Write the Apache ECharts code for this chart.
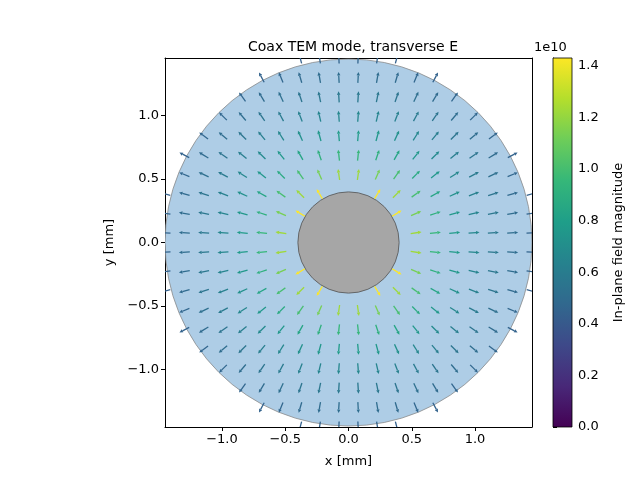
<!DOCTYPE html>
<html><head><meta charset="utf-8">
<script src="https://cdn.jsdelivr.net/npm/echarts@6/dist/echarts.min.js"></script>
<style>html,body{margin:0;padding:0;background:#fff}#c{width:640px;height:480px}</style>
</head><body><div id="c"></div>
<script>
// sample grid positions (mm)
const gridPos = [-1.45,-1.2974,-1.1447,-0.9921,-0.8395,-0.6868,-0.5342,-0.3816,-0.2289,-0.0763,
                  0.0763,0.2289,0.3816,0.5342,0.6868,0.8395,0.9921,1.1447,1.2974,1.45];
const innerRadius = 0.4;     // mm
const outerRadius = 1.45;    // mm
const sampleLimit = 1.5;     // mm, arrows kept inside this radius
const fieldAtUnitR = 0.66;   // 1e10 V/m * mm
const xTicks = [-1.0,-0.5,0.0,0.5,1.0];
const yTicks = [-1.0,-0.5,0.0,0.5,1.0];
const cbTicks = [0.0,0.2,0.4,0.6,0.8,1.0,1.2,1.4];
const cbMax = 1.43;

const viridis = [[68,1,84],[72,40,120],[62,73,137],[49,104,142],[38,130,142],[31,158,137],[53,183,121],[109,205,89],[180,222,44],[253,231,37]];
function vcol(t){t=Math.max(0,Math.min(1,t));const f=t*(viridis.length-1);const i=Math.min(Math.floor(f),viridis.length-2);const a=f-i;
 const c=viridis[i].map((v,k)=>Math.round(v+(viridis[i+1][k]-v)*a));return `rgb(${c[0]},${c[1]},${c[2]})`;}

const arrows=[];
for(const x of gridPos){for(const y of gridPos){const r=Math.hypot(x,y);
 if(r>=innerRadius && r<=sampleLimit){const m=fieldAtUnitR/r;arrows.push([x,y,x/r,y/r,m]);}}}

const fmt=v=>(v<0?'\u2212':'')+Math.abs(v).toFixed(1);
const F='DejaVu Sans';
chart=echarts.init(document.getElementById('c'));
chart.setOption({
 animation:false,
 title:{text:'Coax TEM mode, transverse E',left:348,top:35,textAlign:'center',textStyle:{fontFamily:F,fontSize:14,fontWeight:'normal',color:'#000'}},
 grid:[{left:165,top:58,width:367,height:369,show:false},{left:553,top:58,width:19,height:369,show:false}],
 xAxis:[{type:'value',gridIndex:0,min:-1.45,max:1.45,name:'x [mm]',nameLocation:'middle',nameGap:28,
   nameTextStyle:{fontFamily:F,fontSize:13,color:'#000'},
   axisLine:{onZero:false,lineStyle:{color:'#000'}},splitLine:{show:false},
   axisTick:{customValues:xTicks,length:4,lineStyle:{color:'#000'}},
   axisLabel:{customValues:xTicks,formatter:fmt,fontFamily:F,fontSize:13,color:'#000',margin:6}},
  {type:'value',gridIndex:0,min:-1.45,max:1.45,position:'top',axisLine:{onZero:false,lineStyle:{color:'#000'}},axisTick:{show:false},axisLabel:{show:false},splitLine:{show:false}},
  {type:'value',gridIndex:1,min:0,max:1,show:false}],
 yAxis:[{type:'value',gridIndex:0,min:-1.45,max:1.45,name:'y [mm]',nameLocation:'middle',nameGap:44,nameRotate:90,
   nameTextStyle:{fontFamily:F,fontSize:13,color:'#000'},
   axisLine:{onZero:false,lineStyle:{color:'#000'}},splitLine:{show:false},
   axisTick:{customValues:yTicks,length:4,lineStyle:{color:'#000'}},
   axisLabel:{customValues:yTicks,formatter:fmt,fontFamily:F,fontSize:13,color:'#000',margin:6}},
  {type:'value',gridIndex:0,min:-1.45,max:1.45,position:'right',axisLine:{onZero:false,lineStyle:{color:'#000'}},axisTick:{show:false},axisLabel:{show:false},splitLine:{show:false}},
  {type:'value',gridIndex:1,min:0,max:cbMax,position:'right',name:'In-plane field magnitude',nameLocation:'middle',nameGap:40,nameRotate:90,
   nameTextStyle:{fontFamily:F,fontSize:13,color:'#000'},
   axisLine:{show:true,lineStyle:{color:'#000'}},splitLine:{show:false},
   axisTick:{customValues:cbTicks,length:4,lineStyle:{color:'#000'}},
   axisLabel:{customValues:cbTicks,formatter:v=>v.toFixed(1),fontFamily:F,fontSize:13,color:'#000',margin:6}}],
 graphic:[
  {type:'rect',shape:{x:553,y:58,width:19,height:369},style:{fill:new echarts.graphic.LinearGradient(0,1,0,0,viridis.map((c,i)=>({offset:i/(viridis.length-1),color:`rgb(${c})`}))),stroke:'#000',lineWidth:0.8},z:1},
  {type:'text',left:534,top:41,style:{text:'1e10',font:'13px DejaVu Sans',fill:'#000'}}
 ],
 series:[
  {type:'custom',xAxisIndex:0,yAxisIndex:0,data:[[0,0,outerRadius,0],[0,0,innerRadius,1]],z:1,clip:true,
   renderItem:(p,api)=>{const c=api.coord([api.value(0),api.value(1)]);const r=api.size([api.value(2),0])[0];const inner=api.value(3)===1;
    return {type:'circle',shape:{cx:c[0],cy:c[1],r:r},z2:inner?10:0,style:inner?{fill:'#a6a6a6',stroke:'#505050',lineWidth:0.8}:{fill:'#aecde6',stroke:'#8a8a8a',lineWidth:0.8}};}},
  {type:'custom',xAxisIndex:0,yAxisIndex:0,data:arrows,z:2,clip:true,
   renderItem:(p,api)=>{const c=api.coord([api.value(0),api.value(1)]);const ux=api.value(2),uy=-api.value(3);const col=vcol(api.value(4)/cbMax);
    const L=11,H=3.5,W=1.7;const sx=c[0]-ux*L/2,sy=c[1]-uy*L/2,ex=c[0]+ux*L/2,ey=c[1]+uy*L/2;
    const bx=ex-ux*H,by=ey-uy*H,nx=-uy,ny=ux;
    return {type:'group',children:[
     {type:'line',shape:{x1:sx,y1:sy,x2:bx,y2:by},style:{stroke:col,lineWidth:1.3}},
     {type:'polygon',shape:{points:[[ex,ey],[bx+nx*W,by+ny*W],[bx-nx*W,by-ny*W]]},style:{fill:col}}]};}}
 ]
});
</script></body></html>
